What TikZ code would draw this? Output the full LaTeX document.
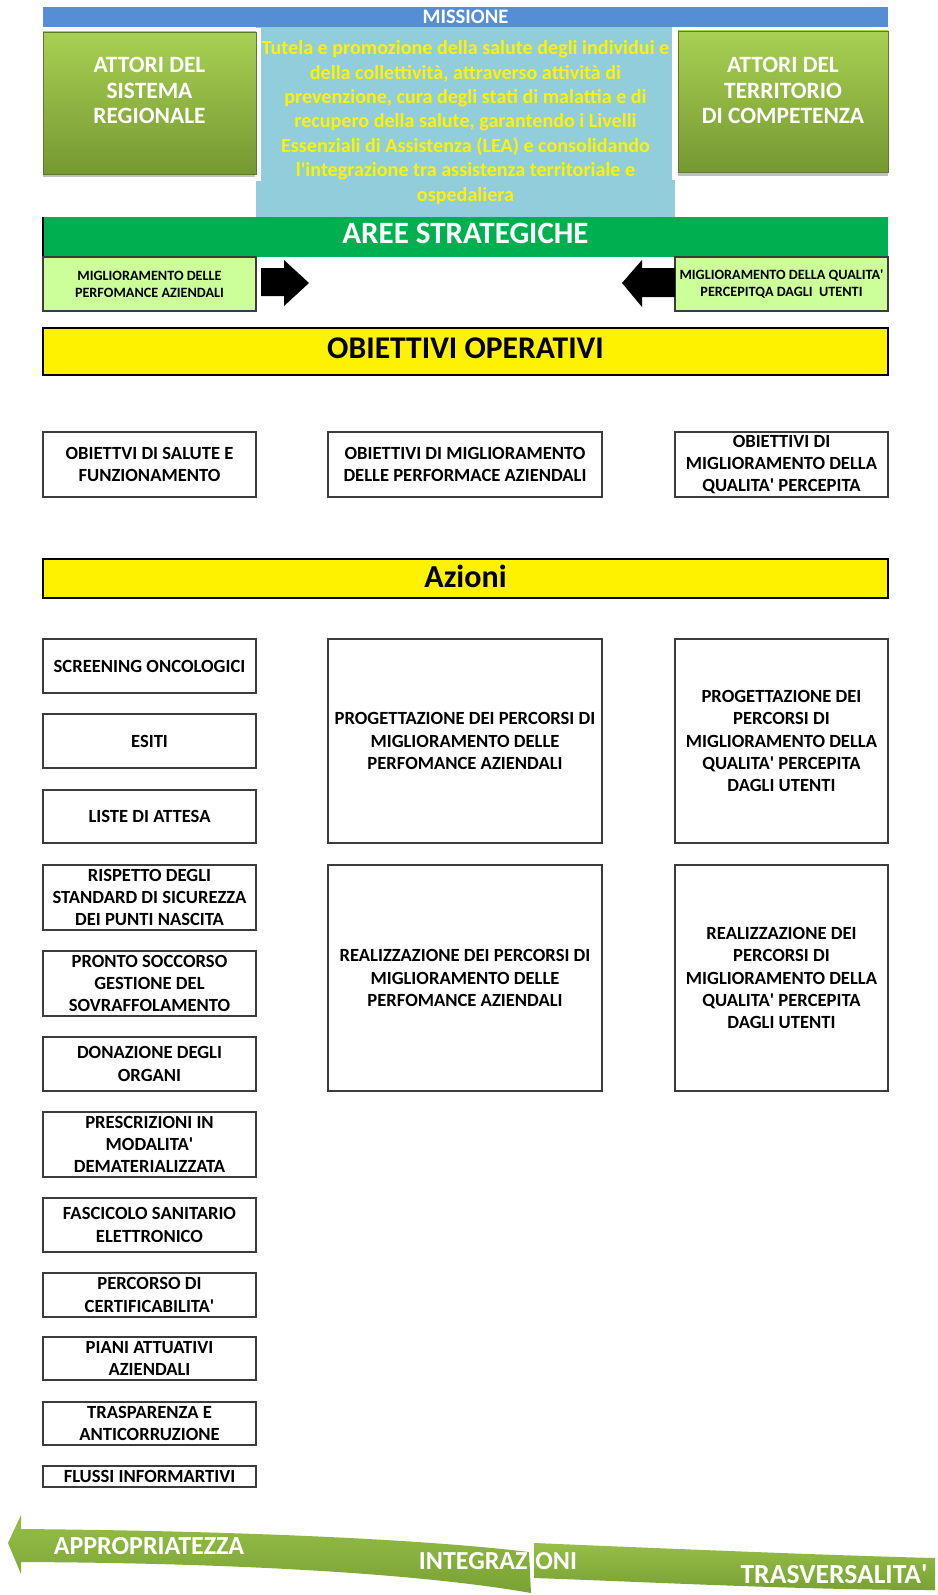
\documentclass[tikz,border=0pt]{standalone}
\usepackage{fontspec}
\setmainfont{Carlito}
\newcommand\ap{\textquotesingle}
\definecolor{missionblue}{RGB}{85,142,213}
\definecolor{aquabox}{RGB}{146,205,220}
\definecolor{areegreen}{RGB}{0,176,80}
\definecolor{palegreen}{RGB}{204,255,153}
\definecolor{oliveTop}{RGB}{168,208,82}
\definecolor{oliveBot}{RGB}{118,152,50}
\definecolor{ribTop}{RGB}{150,190,72}
\definecolor{ribBot}{RGB}{122,162,52}
\definecolor{edgegray}{RGB}{60,60,60}
\tikzset{
  wh/.style 2 args={minimum width=#1*0.5pt, minimum height=#2*0.5pt},
  plain/.style={inner sep=0pt, align=center},
  wbox/.style={plain, draw=edgegray, line width=0.7pt, fill=white,
    font=\bfseries\fontsize{9.3}{11.1}\selectfont},
  actor/.style={plain, draw=oliveBot!80!black, line width=0.4pt,
    top color=oliveTop, bottom color=oliveBot},
  actortext/.style={plain, text=white, font=\bfseries\fontsize{11.7}{12.7}\selectfont},
  areebox/.style={plain, draw=edgegray, line width=0.6pt, fill=palegreen,
    font=\bfseries\fontsize{7.1}{8.6}\selectfont},
  band/.style={plain, draw=black, line width=0.7pt, fill=yellow},
  ribbon/.style={top color=ribTop, bottom color=ribBot},
  ribtext/.style={plain, text=white, font=\bfseries\fontsize{13}{14}\selectfont},
  blockarrow/.style={fill=black},
}
\begin{document}
\begin{tikzpicture}[x=0.5pt,y=-0.5pt]
\useasboundingbox (0,0) rectangle (937,1595);
\fill[white] (0,0) rectangle (937,1595);

% --- mission -------------------------------------------------------------
\fill[aquabox] (256,27) rectangle (675,217);
\node[plain, fill=missionblue, wh={845}{20}, text=white,
  font=\bfseries\fontsize{10.3}{11}\selectfont] (missione) at (465.5,17) {MISSIONE};

% actors: white backing card, soft shadow, green panel
\foreach \xa/\xb/\ya/\yb in {37/261/28/181, 672/894/27/180}{
  \fill[white] (\xa,\ya) rectangle (\xb,\yb);
  \fill[black!25] (\xa+6,\yb-8) rectangle (\xb-6,\yb-4);
}
\node[actor, wh={213}{142}] (attsr) at (149.5,103) {};
\node[actortext] at (149.5,90.5) {ATTORI DEL\\SISTEMA\\REGIONALE};
\node[actor, wh={210}{141}] (attter) at (783,101.5) {};
\node[actortext] at (783,90.5) {ATTORI DEL\\TERRITORIO\\DI COMPETENZA};

\node[plain, text=yellow, font=\bfseries\fontsize{10.05}{12.2}\selectfont] (mtext) at (465.5,122.5)
  {Tutela e promozione della salute degli individui e\\
   della collettività, attraverso attività di\\
   prevenzione, cura degli stati di malattia e di\\
   recupero della salute, garantendo i Livelli\\
   Essenziali di Assistenza (LEA) e consolidando\\
   l\ap integrazione tra assistenza territoriale e\\
   ospedaliera};

% --- strategic areas -----------------------------------------------------
\node[plain, fill=areegreen, wh={845}{40}] (aree) at (465.5,237) {};
\node[plain, text=white, font=\bfseries\fontsize{15.5}{18}\selectfont]
  at (465.5,233) {AREE STRATEGICHE};
\draw[black, line width=1pt] (43,217) -- (43,257);
\node[areebox, wh={213}{54}] (perf) at (149.5,284)
  {MIGLIORAMENTO DELLE\\PERFOMANCE AZIENDALI};
\node[areebox, wh={213}{54}] (qual) at (781.5,284)
  {MIGLIORAMENTO DELLA QUALITA\ap\\PERCEPITQA DAGLI\ \ UTENTI};
\fill[blockarrow] (261,268) -- (284,268) -- (284,260) -- (309,283)
  -- (284,306) -- (284,296) -- (261,296) -- cycle;
\fill[blockarrow] (675,268) -- (642,268) -- (642,260) -- (622,283)
  -- (642,307) -- (642,297) -- (675,297) -- cycle;

% --- operative objectives ------------------------------------------------
\node[band, wh={845}{47}] (obop) at (465.5,351.5) {};
\node[plain, font=\bfseries\fontsize{15.8}{18}\selectfont] at (465.5,348) {OBIETTIVI OPERATIVI};
\node[wbox, wh={213}{65}] (ob1) at (149.5,464.5) {OBIETTVI DI SALUTE E\\FUNZIONAMENTO};
\node[wbox, wh={274}{65}] (ob2) at (465,464.5) {OBIETTIVI DI MIGLIORAMENTO\\DELLE PERFORMACE AZIENDALI};
\node[wbox, wh={213}{65}] (ob3) at (781.5,464.5) {OBIETTIVI DI\\MIGLIORAMENTO DELLA\\QUALITA\ap{} PERCEPITA};

% --- actions -------------------------------------------------------------
\node[band, wh={845}{39}] (azioni) at (465.5,578.5) {};
\node[plain, font=\bfseries\fontsize{16}{18}\selectfont] at (465.5,576) {Azioni};

\node[wbox, wh={213}{54}] (a1) at (149.5,666) {SCREENING ONCOLOGICI};
\node[wbox, wh={213}{54}] (a2) at (149.5,741) {ESITI};
\node[wbox, wh={213}{53}] (a3) at (149.5,816.5) {LISTE DI ATTESA};
\node[wbox, wh={213}{65}] (a4) at (149.5,897.5) {RISPETTO DEGLI\\STANDARD DI SICUREZZA\\DEI PUNTI NASCITA};
\node[wbox, wh={213}{65}] (a5) at (149.5,983.5) {PRONTO SOCCORSO\\GESTIONE DEL\\SOVRAFFOLAMENTO};
\node[wbox, wh={213}{54}] (a6) at (149.5,1064) {DONAZIONE DEGLI\\ORGANI};
\node[wbox, wh={213}{65}] (a7) at (149.5,1144.5) {PRESCRIZIONI IN\\MODALITA\ap\\DEMATERIALIZZATA};
\node[wbox, wh={213}{54}] (a8) at (149.5,1225) {FASCICOLO SANITARIO\\ELETTRONICO};
\node[wbox, wh={213}{44}] (a9) at (149.5,1295) {PERCORSO DI\\CERTIFICABILITA\ap};
\node[wbox, wh={213}{43}] (a10) at (149.5,1358.5) {PIANI ATTUATIVI\\AZIENDALI};
\node[wbox, wh={213}{43}] (a11) at (149.5,1423.5) {TRASPARENZA E\\ANTICORRUZIONE};
\node[wbox, wh={213}{21}] (a12) at (149.5,1476.5) {FLUSSI INFORMARTIVI};

\node[wbox, wh={274}{204}] (p1) at (465,741) {PROGETTAZIONE DEI PERCORSI DI\\MIGLIORAMENTO DELLE\\PERFOMANCE AZIENDALI};
\node[wbox, wh={274}{226}] (p2) at (465,978) {REALIZZAZIONE DEI PERCORSI DI\\MIGLIORAMENTO DELLE\\PERFOMANCE AZIENDALI};
\node[wbox, wh={213}{204}] (q1) at (781.5,741) {PROGETTAZIONE DEI\\PERCORSI DI\\MIGLIORAMENTO DELLA\\QUALITA\ap{} PERCEPITA\\DAGLI UTENTI};
\node[wbox, wh={213}{226}] (q2) at (781.5,978) {REALIZZAZIONE DEI\\PERCORSI DI\\MIGLIORAMENTO DELLA\\QUALITA\ap{} PERCEPITA\\DAGLI UTENTI};

% --- cross-cutting ribbons ----------------------------------------------
\shade[ribbon] (8,1543) -- (21,1515) -- (21,1529)
  .. controls (250,1531) and (430,1540) .. (529,1552)
  -- (531,1593)
  .. controls (430,1575) and (250,1563) .. (21,1562)
  -- (21,1574) -- cycle;
\shade[ribbon] (534,1543)
  .. controls (700,1550) and (850,1556) .. (935,1558)
  -- (935,1590)
  .. controls (800,1590) and (650,1582) .. (534,1578) -- cycle;
\node[ribtext] (appr) at (149,1546) {APPROPRIATEZZA};
\node[ribtext, anchor=east] (integ) at (528,1561) {INTEGRAZ};
\node[ribtext, anchor=west] (oni) at (535,1561) {ONI};
\node[ribtext, font=\bfseries\fontsize{13.8}{15}\selectfont] (trasv) at (834,1574) {TRASVERSALITA\ap};
\end{tikzpicture}
\end{document}
